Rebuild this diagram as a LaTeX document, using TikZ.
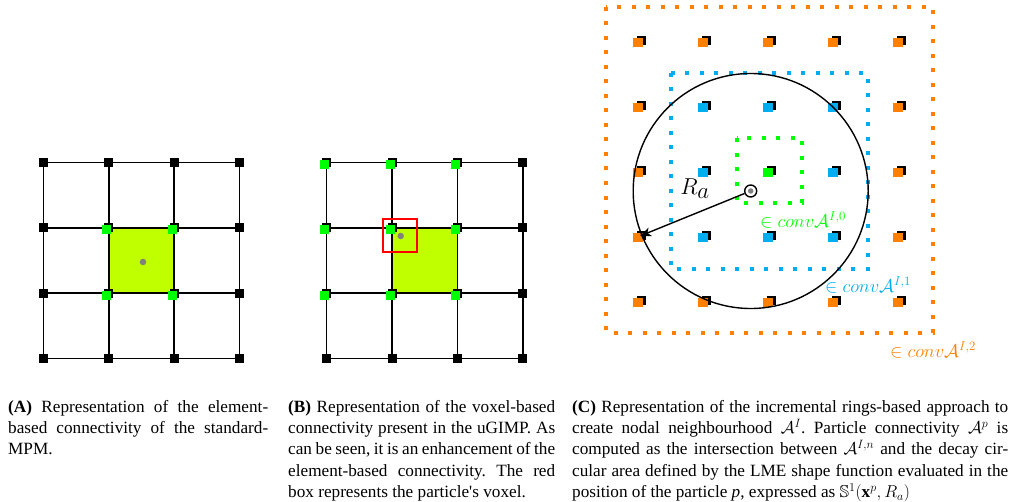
\RequirePackage{fix-cm}
\documentclass[tikz,border=0pt]{standalone}
\usepackage{amsmath,amssymb}
\usepackage{fontspec}
\setmainfont{Liberation Serif}
\usetikzlibrary{arrows.meta}
\definecolor{cOrange}{HTML}{FF8000}
\definecolor{cBlue}{HTML}{00AEEF}
\definecolor{cGreen}{HTML}{00FF00}
\definecolor{cLime}{HTML}{BFFF00}
\newcommand{\capfont}{\fontsize{17.2bp}{21.3bp}\selectfont\frenchspacing}
\begin{document}
\begin{tikzpicture}[x=1bp,y=-1bp,
  gridline/.style={line width=1.5bp, black},
  blk/.style={rectangle, fill=black, minimum size=9bp, inner sep=0pt},
  gsq/.style={rectangle, fill=cGreen, minimum size=9bp, inner sep=0pt},
  csq/.style={rectangle, fill=#1, minimum size=9.5bp, inner sep=0pt},
  dotsq/.style={line width=4bp, dash pattern=on 4bp off 10.5bp},
  graydot/.style={circle, fill=gray, minimum size=6.5bp, inner sep=0pt},
  caption/.style={anchor=north west, align=justify, font=\capfont, inner sep=0pt},
  ringlabel/.style={font=\fontsize{18.5bp}{20bp}\selectfont, inner sep=0pt}]
\useasboundingbox (0,0) rectangle (1017,502);

% ---------------- Panel A ----------------
\fill[cLime] (108.9,227.9) rectangle (174.1,293.1);
\foreach \i in {0,...,3} {
  \draw[gridline] ({43.7+65.2*\i},162.7) -- ({43.7+65.2*\i},358.3);
  \draw[gridline] (43.7,{162.7+65.2*\i}) -- (239.3,{162.7+65.2*\i});
}
\foreach \i in {0,...,3} \foreach \j in {0,...,3}
  \node[blk] (a\i\j) at ({43.7+65.2*\i},{162.7+65.2*\j}) {};
\foreach \i/\j in {1/1,2/1,1/2,2/2}
  \node[gsq] (ag\i\j) at ([shift={(-2,2)}]a\i\j) {};
\node[graydot] (pA) at (143,262) {};

% ---------------- Panel B ----------------
\fill[cLime] (392.1,227.9) rectangle (457.5,293.1);
\foreach \i in {0,...,3} {
  \draw[gridline] ({326.7+65.4*\i},162.7) -- ({326.7+65.4*\i},358.3);
  \draw[gridline] (326.7,{162.7+65.2*\i}) -- (522.9,{162.7+65.2*\i});
}
\foreach \i in {0,...,3} \foreach \j in {0,...,3}
  \node[blk] (b\i\j) at ({326.7+65.4*\i},{162.7+65.2*\j}) {};
\foreach \i in {0,1,2} \foreach \j in {0,1,2}
  \node[gsq] (bg\i\j) at ([shift={(-2,2)}]b\i\j) {};
\node[draw=red, line width=1.6bp, minimum width=34bp, minimum height=33bp, inner sep=0pt] (voxel) at (400,235.5) {};
\node[graydot] (pB) at (400.7,236) {};

% ---------------- Panel C ----------------
\draw[cOrange, dotsq] (606,7) rectangle (933,333);
\draw[cBlue, dotsq] (671,72.7) rectangle (867.7,269.3);
\draw[cGreen, dotsq] (736.7,138.3) rectangle (802.3,203.3);
\foreach \i in {0,...,4} \foreach \j in {0,...,4} {
  \pgfmathtruncatemacro{\ri}{abs(\i-2)}
  \pgfmathtruncatemacro{\rj}{abs(\j-2)}
  \pgfmathtruncatemacro{\ring}{max(\ri,\rj)}
  \ifcase\ring \def\col{cGreen}\or \def\col{cBlue}\else \def\col{cOrange}\fi
  \node[blk] (c\i\j) at ({641+65*\i},{40.5+65*\j}) {};
  \node[csq=\col] (cc\i\j) at ([shift={(-3,2)}]c\i\j) {};
}
\node[circle, draw=black, line width=1.4bp, minimum size=235bp, inner sep=0pt] (supp) at (750.7,191) {};
\node[circle, draw=black, line width=1.4bp, minimum size=12bp, inner sep=0pt] (part) at (750.7,191) {};
\node[graydot, minimum size=5.5bp] (pC) at (750.7,191) {};
\coordinate (rend) at (640,236);
\draw[line width=1.4bp, -{Stealth[length=11bp, width=9bp, inset=3bp]}] (part) -- (rend);
\node[font=\fontsize{23bp}{25bp}\selectfont, inner sep=0pt] (Ra) at (695,188.5) {$R_{\textstyle a}$};
\node[ringlabel, text=cGreen] (l0) at (803,220) {$\in conv\mathcal{A}^{I,0}$};
\node[ringlabel, text=cBlue] (l1) at (868,285) {$\in conv\mathcal{A}^{I,1}$};
\node[ringlabel, text=cOrange] (l2) at (933,350) {$\in conv\mathcal{A}^{I,2}$};

% ---------------- Captions ----------------
\node[caption, text width=260bp] (capA) at (8,400) {\hangindent=3bp\hangafter=1
\textbf{(A)} Representation of the element-\linebreak based connectivity of the standard-\linebreak MPM.};
\node[caption, text width=267bp] (capB) at (288,400) {\hangindent=4bp\hangafter=1
\textbf{(B)} Representation of the voxel-based\linebreak connectivity present in the uGIMP. As\linebreak can be seen, it is an enhancement of the\linebreak element-based connectivity. The red\linebreak box represents the particle\textquotesingle s voxel.};
\node[caption, text width=436bp] (capC) at (572,400) {\hangindent=3bp\hangafter=1
\textbf{(C)} Representation of the incremental rings-based approach to\linebreak create nodal neighbourhood $\mathcal{A}^{I}$. Particle connectivity $\mathcal{A}^{p}$ is\linebreak computed as the intersection between $\mathcal{A}^{I,n}$ and the decay cir-\linebreak cular area defined by the LME shape function evaluated in the\linebreak position of the particle \textit{p}, expressed as $\mathbb{S}^1(\mathbf{x}^p, R_a)$};
\end{tikzpicture}
\end{document}
